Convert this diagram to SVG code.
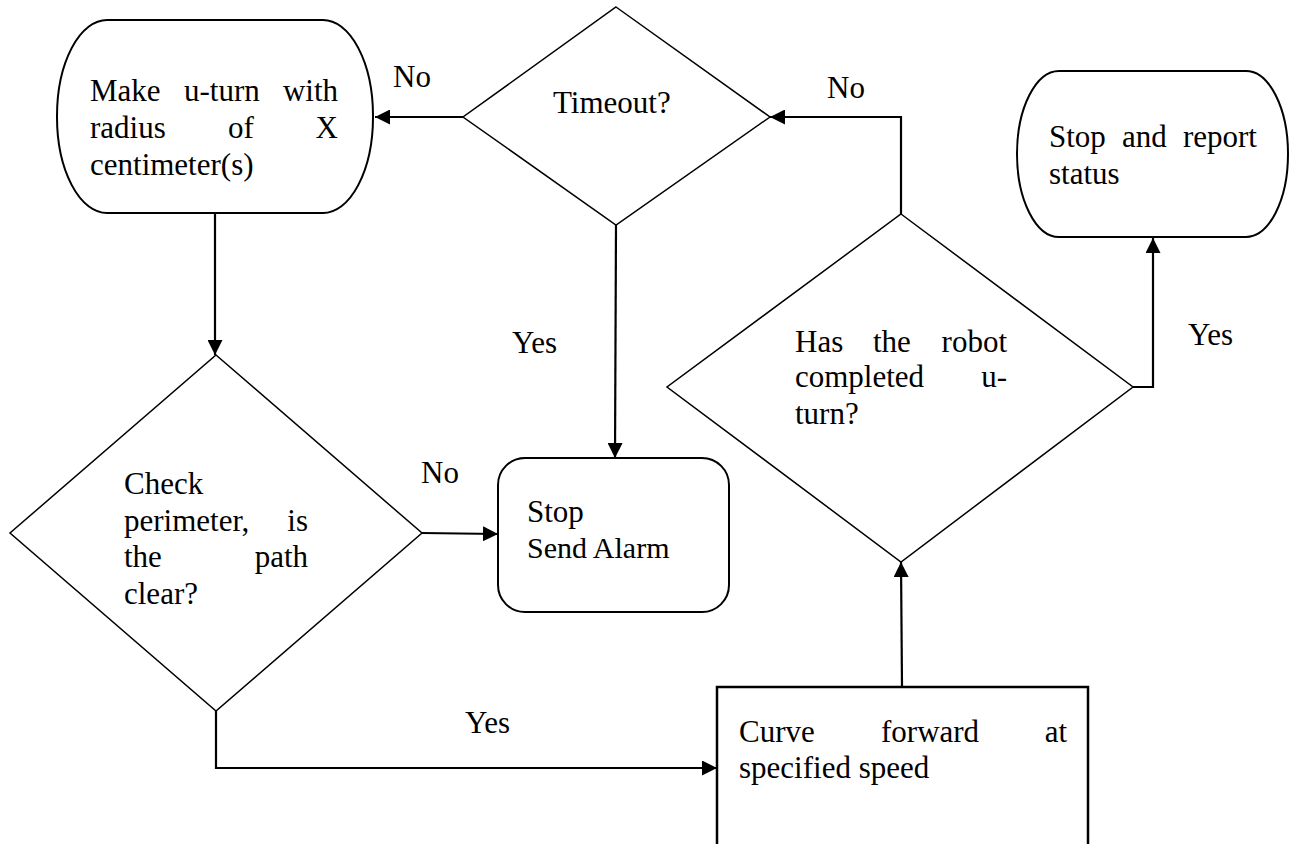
<svg xmlns="http://www.w3.org/2000/svg" width="1296" height="844" viewBox="0 0 1296 844">
<style>
text{font-family:"Liberation Serif","Times New Roman",serif;font-size:31px;fill:#000}
.n{fill:#fff;stroke:#000;stroke-width:2}
.d{fill:#fff;stroke:#000;stroke-width:1.5}
.c{fill:none;stroke:#000;stroke-width:2.2}
.e{text-anchor:end}
</style>
<defs>
<marker id="ah" markerUnits="userSpaceOnUse" markerWidth="15" markerHeight="15" viewBox="0 0 15 15" refX="15" refY="7.5" orient="auto">
<path d="M0,0 L15,7.5 L0,15 Z" fill="#000"/>
</marker>
</defs>
<rect width="1296" height="844" fill="#fff"/>
<g id="connectors">
<path class="c" d="M463,117 L375,117" marker-end="url(#ah)"/>
<path class="c" d="M215,213 L215,355" marker-end="url(#ah)"/>
<path class="c" d="M422,533 L498,534" marker-end="url(#ah)"/>
<path class="c" d="M616,225 L615,458" marker-end="url(#ah)"/>
<path class="c" d="M216,711 L216,768 L717,768" marker-end="url(#ah)"/>
<path class="c" d="M902,687 L901,562" marker-end="url(#ah)"/>
<path class="c" d="M901,214 L901,117 L770,117" marker-end="url(#ah)"/>
<path class="c" d="M1133,387 L1153,387 L1153,238" marker-end="url(#ah)"/>
<text x="393" y="87">No</text>
<text x="827" y="98">No</text>
<text x="421" y="483">No</text>
<text x="512" y="353">Yes</text>
<text x="465" y="733">Yes</text>
<text x="1188" y="345">Yes</text>
</g>
<g id="uturn">
<rect class="n" x="57" y="20" width="316" height="193" rx="50" ry="96"/>
<text x="90" y="101">Make</text>
<text x="184" y="101">u-turn</text>
<text class="e" x="338" y="101">with</text>
<text x="90" y="138">radius</text>
<text x="228" y="138">of</text>
<text class="e" x="338" y="138">X</text>
<text x="90" y="175">centimeter(s)</text>
</g>
<g id="timeout">
<polygon class="d" points="616,7 770,117 616,225 463,117"/>
<text x="553" y="113">Timeout?</text>
</g>
<g id="stopreport">
<rect class="n" x="1017" y="71" width="271" height="166" rx="42" ry="83"/>
<text x="1049" y="147">Stop</text>
<text x="1122" y="147">and</text>
<text class="e" x="1257" y="147">report</text>
<text x="1049" y="184">status</text>
</g>
<g id="check">
<polygon class="d" points="216,355 422,533 216,711 10,533"/>
<text x="124" y="494">Check</text>
<text x="124" y="531">perimeter,</text>
<text class="e" x="308" y="531">is</text>
<text x="124" y="567">the</text>
<text class="e" x="308" y="567">path</text>
<text x="124" y="604">clear?</text>
</g>
<g id="stopalarm">
<rect class="n" x="498" y="458" width="231" height="154" rx="27" ry="27"/>
<text x="527" y="522">Stop</text>
<text x="527" y="558" style="font-size:30px">Send Alarm</text>
</g>
<g id="robot">
<polygon class="d" points="901,214 1133,387 901,562 667,387"/>
<text x="795" y="352">Has</text>
<text x="873" y="352">the</text>
<text class="e" x="1007" y="352">robot</text>
<text x="795" y="387">completed</text>
<text class="e" x="1007" y="387">u-</text>
<text x="795" y="424">turn?</text>
</g>
<g id="curve">
<rect class="n" x="717" y="687" width="371" height="180" style="stroke-width:2.5"/>
<text x="739" y="742">Curve</text>
<text x="881" y="742">forward</text>
<text class="e" x="1067" y="742">at</text>
<text x="739" y="778">specified speed</text>
</g>
</svg>
